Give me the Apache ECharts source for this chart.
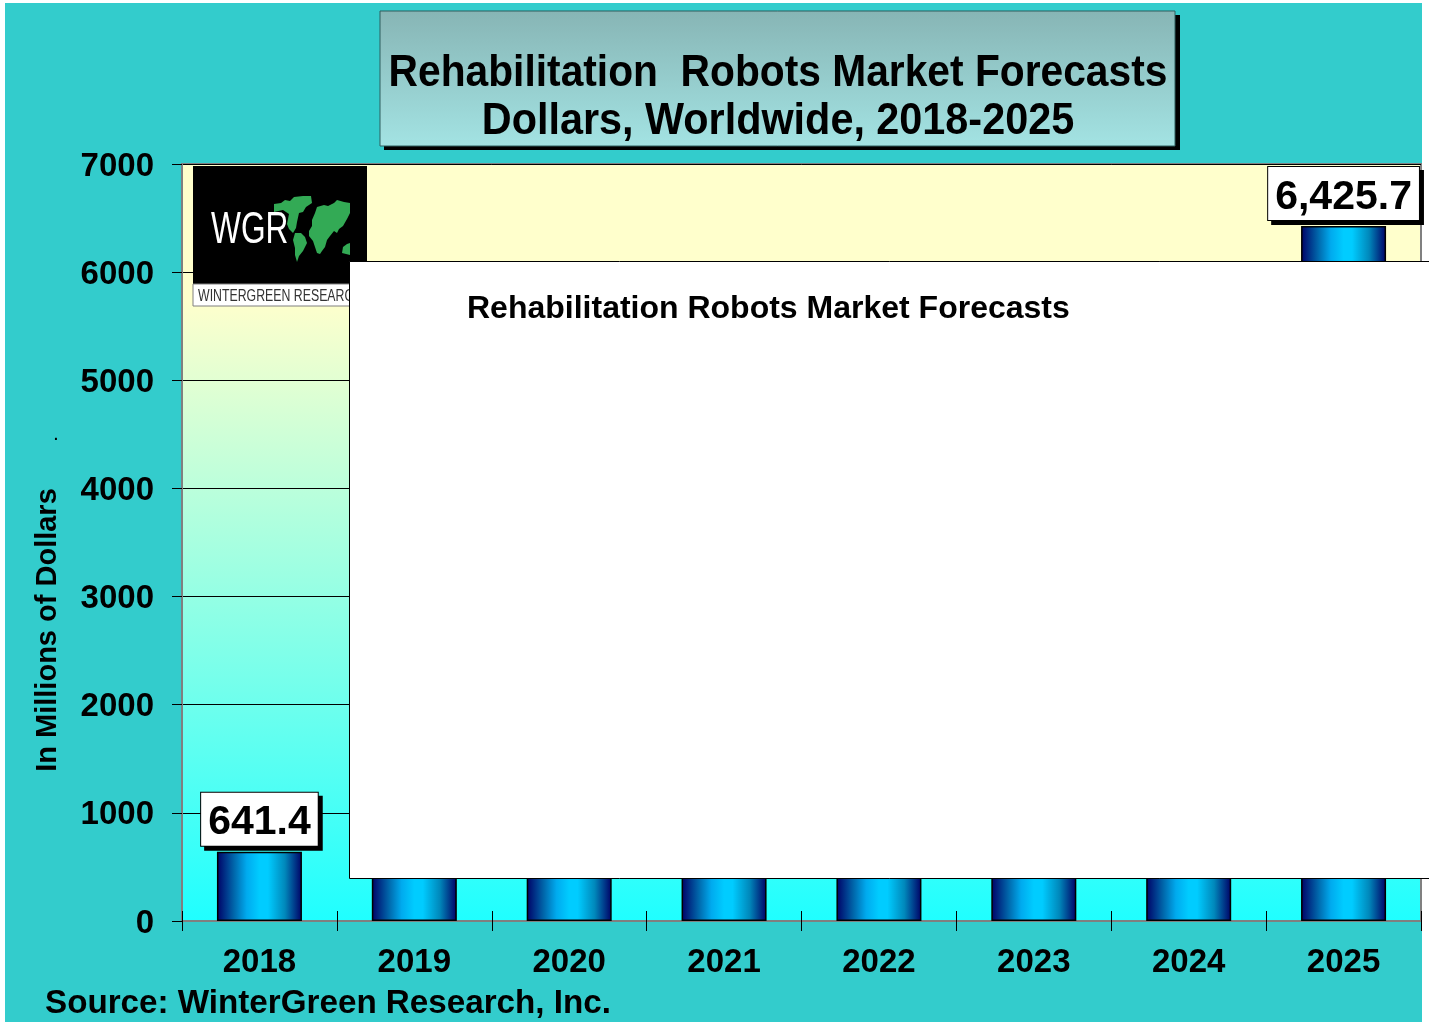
<!DOCTYPE html>
<html>
<head>
<meta charset="utf-8">
<title>Rehabilitation Robots Market Forecasts</title>
<style>
  html, body { margin: 0; padding: 0; background: #fff; }
  #chart { width: 1429px; height: 1024px; }
</style>
<script src="https://cdn.jsdelivr.net/npm/echarts@6/dist/echarts.min.js"></script>
</head>
<body>
<div id="chart"></div>
<script>
const years = ['2018', '2019', '2020', '2021', '2022', '2023', '2024', '2025'];
// 2019-2024 sit behind the white panel, so those values are estimates
const marketValues = [641.4, 980, 1450, 2100, 2900, 3800, 5000, 6425.7];
const labelledYears = ['2018', '2025'];
const yTicks = { min: 0, max: 7000, interval: 1000 };

const FONT = '"Liberation Sans", Arial, sans-serif';

const chart = echarts.init(document.getElementById('chart'), null, { renderer: 'canvas' });

// logo continents, rough outlines
const northAmerica = [[274,204],[281,203],[285,200],[290,201],[294,197],[303,196],[311,196],[312,203],[306,207],[303,212],[299,213],[297,222],[296,228],[293,233],[289,229],[287,224],[289,214],[283,210],[274,212]];
const southAmerica = [[295,233],[301,233],[305,237],[307,243],[303,251],[299,256],[297,262],[295,255],[295,248],[293,240]];
const eurasia = [[317,207],[324,205],[328,206],[334,203],[337,200],[344,202],[350,203],[350,213],[347,219],[343,226],[339,229],[337,233],[334,231],[330,236],[327,240],[325,247],[322,251],[320,254],[317,253],[315,247],[313,241],[309,236],[309,231],[312,226],[312,220],[315,213]];
const australia = [[343,247],[347,244],[350,243],[350,255],[346,254],[342,253]];

function land(points) {
  return { type: 'polygon', z: 5, shape: { points: points }, style: { fill: '#33AA55' } };
}

function label(x, y, text, size, extra) {
  return Object.assign({
    type: 'text', z: 60, x: x, y: y,
    style: { text: text, font: 'bold ' + size + 'px ' + FONT, fill: '#000', textAlign: (extra && extra.align) || 'left', textVerticalAlign: 'middle' }
  }, extra || {});
}

const option = {
  animation: false,
  backgroundColor: '#fff',
  grid: {
    left: 182, top: 164, width: 1239, height: 757,
    show: true,
    borderColor: '#808080',
    borderWidth: 2,
    backgroundColor: new echarts.graphic.LinearGradient(0, 0, 0, 1, [
      { offset: 0, color: '#FFFFCC' },
      { offset: 0.18, color: '#FFFFCC' },
      { offset: 1, color: '#1FFFFF' }
    ])
  },
  xAxis: [{
    type: 'category',
    data: years,
    axisLine: { lineStyle: { color: '#808080', width: 2 } },
    axisTick: { show: true, length: 10, lineStyle: { color: '#000', width: 1 } },
    axisLabel: { color: '#000', fontFamily: FONT, fontWeight: 'bold', fontSize: 33, margin: 25 }
  }, {
    // second axis only for the upper half of the crossing ticks
    type: 'category',
    data: years,
    position: 'bottom',
    axisLine: { show: false },
    axisTick: { show: true, inside: true, length: 10, lineStyle: { color: '#000', width: 1 } },
    axisLabel: { show: false }
  }],
  yAxis: {
    type: 'value',
    min: yTicks.min,
    max: yTicks.max,
    interval: yTicks.interval,
    axisLine: { show: true, lineStyle: { color: '#808080', width: 2 } },
    axisTick: { show: true, length: 10, lineStyle: { color: '#000', width: 1 } },
    axisLabel: {
      margin: 28,
      formatter: function (v) { return '{n|' + v + '}'; },
      rich: { n: { color: '#000', fontFamily: FONT, fontWeight: 'bold', fontSize: 33, padding: [5, 0, 0, 0] } }
    },
    splitLine: { show: true, lineStyle: { color: '#000', width: 1 } }
  },
  series: [{
    type: 'bar',
    barWidth: 85,
    z: 3,
    itemStyle: {
      borderColor: '#000',
      borderWidth: 1.5,
      color: new echarts.graphic.LinearGradient(0, 0, 1, 0, [
        { offset: 0, color: '#000066' },
        { offset: 0.2, color: '#0066AA' },
        { offset: 0.35, color: '#00AAEE' },
        { offset: 0.5, color: '#00CCFF' },
        { offset: 0.6, color: '#00CCFF' },
        { offset: 0.8, color: '#0088BB' },
        { offset: 1, color: '#000066' }
      ])
    },
    data: marketValues.map(function (v, i) {
      return { value: v, label: { show: labelledYears.indexOf(years[i]) >= 0 } };
    }),
    label: {
      position: 'top',
      distance: 6,
      formatter: function (p) {
        return p.value.toLocaleString('en-US', { minimumFractionDigits: 1, maximumFractionDigits: 1 });
      },
      color: '#000',
      fontFamily: FONT,
      fontWeight: 'bold',
      fontSize: 41,
      lineHeight: 41,
      padding: [10, 7, 2, 7],
      backgroundColor: '#fff',
      borderColor: '#000',
      borderWidth: 1,
      shadowColor: '#000',
      shadowBlur: 0,
      shadowOffsetX: 4,
      shadowOffsetY: 4
    }
  }],
  graphic: [
    // teal page, white edges left showing
    { type: 'rect', z: -100, shape: { x: 5, y: 3, width: 1417, height: 1019 }, style: { fill: '#33CCCC' } },

    // title box
    { type: 'rect', z: 50, shape: { x: 384, y: 15, width: 796, height: 135 }, style: { fill: '#000' } },
    {
      type: 'rect', z: 51,
      shape: { x: 380, y: 11, width: 795, height: 135 },
      style: {
        stroke: '#2F5F5F', lineWidth: 1,
        fill: new echarts.graphic.LinearGradient(0, 0, 0, 1, [
          { offset: 0, color: '#87B5B5' },
          { offset: 1, color: '#A3E3E3' }
        ])
      }
    },
    label(778, 74, 'Rehabilitation  Robots Market Forecasts', 44, { align: 'center', scaleX: 0.926 }),
    label(778, 122, 'Dollars, Worldwide, 2018-2025', 44, { align: 'center', scaleX: 0.94 }),

    // logo
    { type: 'rect', z: 4, shape: { x: 193, y: 166, width: 174, height: 118 }, style: { fill: '#000' } },
    { type: 'rect', z: 4, shape: { x: 193, y: 284, width: 160, height: 22 }, style: { fill: '#fff', stroke: '#808080', lineWidth: 1 } },
    land(northAmerica), land(southAmerica), land(eurasia), land(australia),
    {
      type: 'text', z: 6, x: 211, y: 231, scaleX: 0.72,
      style: { text: 'WGR', font: '44px ' + FONT, fill: '#fff', textAlign: 'left', textVerticalAlign: 'middle' }
    },
    {
      type: 'text', z: 6, x: 198, y: 297, scaleX: 0.77,
      style: { text: 'WINTERGREEN RESEARCH', font: '16px ' + FONT, fill: '#333', textAlign: 'left', textVerticalAlign: 'middle' }
    },

    // white panel lying over the middle of the chart
    { type: 'rect', z: 40, shape: { x: 349.5, y: 261.5, width: 1085, height: 617 }, style: { fill: '#fff', stroke: '#000', lineWidth: 1 } },
    label(467, 309, 'Rehabilitation Robots Market Forecasts', 32),

    // axis name and source line
    label(48, 630, 'In Millions of Dollars', 29, { align: 'center', rotation: Math.PI / 2 }),
    label(54, 436, '.', 14),
    label(45, 1004, 'Source: WinterGreen Research, Inc.', 33.2)
  ]
};

chart.setOption(option);
</script>
</body>
</html>
